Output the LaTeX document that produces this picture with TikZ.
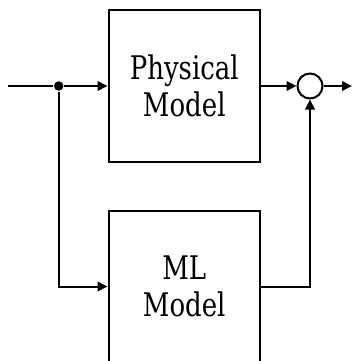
\documentclass[tikz,border=0pt]{standalone}
\usepackage{fontspec}
\setmainfont{DejaVu Serif}[FakeStretch=0.8]
\usetikzlibrary{arrows.meta}
\begin{document}
\begin{tikzpicture}[x=1pt,y=-1pt,line width=2pt,
  block/.style={draw,minimum width=151.5pt,minimum height=151pt,align=center,
    inner sep=0pt,font=\fontsize{32.5}{37}\selectfont},
  sumnode/.style={draw,circle,minimum size=25pt,inner sep=0pt},
  junction/.style={fill,circle,minimum size=9.5pt,inner sep=0pt},
  flow/.style={-{Triangle[length=10pt,width=9.5pt]}}]
  \clip (0,0) rectangle (358,361);
  % blocks
  \node[block] (phys) at (184.25,86) {Physical\\Model};
  \node[block] (ml) at (184.25,286.5) {ML\\Model};
  \node[sumnode] (sum) at (310,86) {};
  \node[junction] (split) at (58.7,86) {};
  \coordinate (in) at (8,86);
  \coordinate (out) at (352,86);
  % signal paths
  \draw (in) -- (split);
  \draw[flow] (split) -- (phys);
  \draw[flow] (split) |- (ml);
  \draw[flow] (phys) -- (sum);
  \draw[flow] (ml) -| (sum);
  \draw[flow] (sum) -- (out);
\end{tikzpicture}
\end{document}
